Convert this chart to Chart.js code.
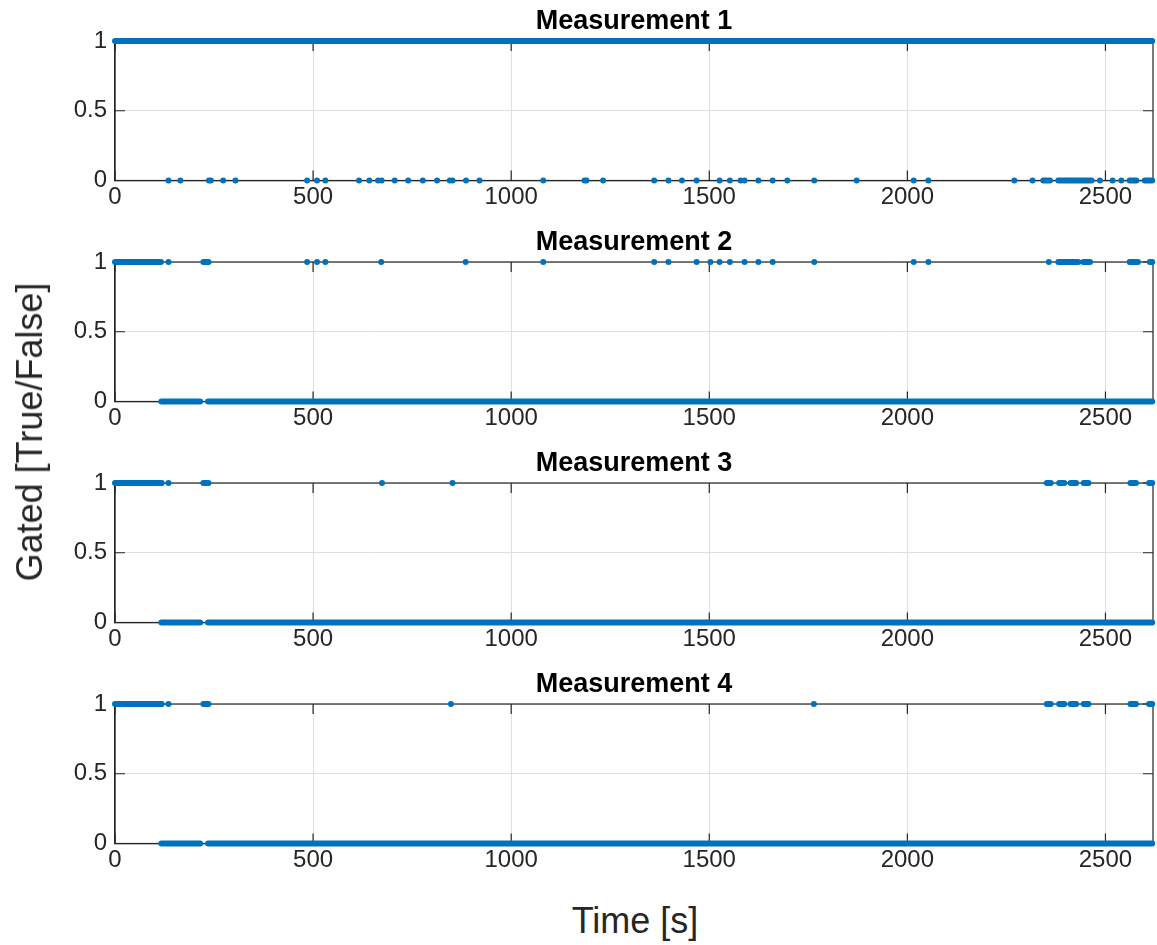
<!DOCTYPE html>
<html>
<head>
<meta charset="utf-8">
<script src="https://cdn.jsdelivr.net/npm/chart.js@4.4.1/dist/chart.umd.min.js"></script>
<style>
  html, body { margin: 0; padding: 0; background: #fff; }
  body { width: 1157px; height: 945px; position: relative; overflow: hidden; font-family: "Liberation Sans", Arial, sans-serif; }
  .panel { position: absolute; left: 0; width: 1157px; height: 220px; }
  #ylabel { position: absolute; left: 30px; top: 432px; transform: translate(-50%, -50%) rotate(-90deg); font-size: 36px; color: #262626; white-space: nowrap; }
  #xlabel { position: absolute; left: 635px; top: 921px; transform: translate(-50%, -50%); font-size: 36px; color: #262626; white-space: nowrap; }
</style>
</head>
<body>
<div class="panel" style="top:1px"><canvas id="m1"></canvas></div>
<div class="panel" style="top:222px"><canvas id="m2"></canvas></div>
<div class="panel" style="top:443px"><canvas id="m3"></canvas></div>
<div class="panel" style="top:664px"><canvas id="m4"></canvas></div>
<div id="ylabel">Gated [True/False]</div>
<div id="xlabel">Time [s]</div>

<script>
// axis ticks
const timeTicks = [0, 500, 1000, 1500, 2000, 2500];
const gateTicks = [0, 0.5, 1];
const timeMax = 2620;

const titles = ['Measurement 1', 'Measurement 2', 'Measurement 3', 'Measurement 4'];

// gated samples: long dense stretches as [start, end], lone samples as times
const m1HighRuns = [[0, 2618]];
const m1HighPts = [];
const m1LowRuns = [[2343, 2360], [2381, 2465], [2561, 2578], [2599, 2618]];
const m1LowPts = [135, 165, 237, 242, 273, 304, 485, 510, 531, 616, 642, 664, 673, 706, 740, 777, 813, 845, 852, 886, 920,
  1081, 1185, 1190, 1232, 1361, 1397, 1431, 1468, 1526, 1552, 1579, 1589, 1624, 1660, 1697, 1765, 1872, 2016, 2053,
  2270, 2316, 2486, 2518, 2540];

const m2HighRuns = [[0, 116], [223, 236], [2381, 2431], [2444, 2461], [2561, 2582], [2612, 2618]];
const m2HighPts = [135, 485, 510, 531, 672, 885, 1081, 1361, 1397, 1468, 1503, 1526, 1552, 1589, 1624, 1660, 1765,
  2016, 2053, 2357];
const m2LowRuns = [[117, 215], [235, 2618]];
const m2LowPts = [];

const m3HighRuns = [[0, 118], [223, 236], [2352, 2362], [2383, 2396], [2412, 2426], [2445, 2457], [2563, 2577], [2610, 2618]];
const m3HighPts = [135, 674, 852];
const m3LowRuns = [[117, 215], [235, 2618]];
const m3LowPts = [];

const m4HighRuns = [[0, 118], [223, 236], [2352, 2362], [2383, 2396], [2412, 2426], [2445, 2457], [2563, 2577], [2610, 2618]];
const m4HighPts = [135, 848, 1764];
const m4LowRuns = [[117, 215], [235, 2618]];
const m4LowPts = [];

const BLUE = '#0072BD';
const INK = '#262626';
const GRID = '#dfdfdf';
const FONT = '"Liberation Sans", Arial, sans-serif';

function runsToLine(runs, level) {
  const out = [];
  runs.forEach(([a, b]) => {
    out.push({ x: a, y: level }, { x: b, y: level }, { x: b, y: null });
  });
  return out;
}

function pointsAt(times, level) {
  return times.map(t => ({ x: t, y: level }));
}

// box around the plot area with inward ticks on all four sides, title centred over the axes
const boxPlugin = {
  id: 'boxPlugin',
  beforeDatasetsDraw(chart) {
    const { ctx, chartArea: a, scales } = chart;
    const len = 10;
    ctx.save();
    ctx.strokeStyle = INK;
    ctx.lineWidth = 1.2;
    ctx.strokeRect(a.left, a.top, a.right - a.left, a.bottom - a.top);
    ctx.beginPath();
    timeTicks.forEach(v => {
      const x = scales.x.getPixelForValue(v);
      ctx.moveTo(x, a.bottom); ctx.lineTo(x, a.bottom - len);
      ctx.moveTo(x, a.top); ctx.lineTo(x, a.top + len);
    });
    gateTicks.forEach(v => {
      const y = scales.y.getPixelForValue(v);
      ctx.moveTo(a.left, y); ctx.lineTo(a.left + len, y);
      ctx.moveTo(a.right, y); ctx.lineTo(a.right - len, y);
    });
    ctx.stroke();
    ctx.restore();
  },
  afterDraw(chart, args, opts) {
    const { ctx, chartArea: a } = chart;
    ctx.save();
    ctx.fillStyle = '#000';
    ctx.font = 'bold 27px ' + FONT;
    ctx.textAlign = 'center';
    ctx.textBaseline = 'middle';
    ctx.fillText(opts.text, (a.left + a.right) / 2, a.top - 19);
    ctx.restore();
  }
};

function makePanel(id, title, highRuns, highPts, lowRuns, lowPts) {
  const lineStyle = {
    type: 'line', borderColor: BLUE, borderWidth: 6, borderCapStyle: 'round',
    pointRadius: 0, spanGaps: false, clip: false, parsing: false
  };
  const dotStyle = {
    type: 'scatter', backgroundColor: BLUE, borderWidth: 0, pointRadius: 3, clip: false
  };
  new Chart(document.getElementById(id), {
    data: {
      datasets: [
        { ...lineStyle, data: runsToLine(highRuns, 1) },
        { ...lineStyle, data: runsToLine(lowRuns, 0) },
        { ...dotStyle, data: pointsAt(highPts, 1) },
        { ...dotStyle, data: pointsAt(lowPts, 0) }
      ]
    },
    options: {
      responsive: true,
      maintainAspectRatio: false,
      animation: false,
      layout: { padding: { left: 0, right: 1.3, top: 40, bottom: 0 } },
      plugins: {
        legend: { display: false },
        tooltip: { enabled: false },
        title: { display: false },
        boxPlugin: { text: title }
      },
      scales: {
        x: {
          type: 'linear', min: 0, max: timeMax,
          afterBuildTicks: s => { s.ticks = timeTicks.map(v => ({ value: v })); },
          afterFit: s => { s.height = 40.5; },
          ticks: { color: INK, font: { family: FONT, size: 24 }, padding: 2, maxRotation: 0, callback: v => String(v) },
          grid: { color: GRID, drawTicks: false },
          border: { display: true, color: INK, width: 1.2 }
        },
        y: {
          type: 'linear', min: 0, max: 1,
          afterBuildTicks: s => { s.ticks = gateTicks.map(v => ({ value: v })); },
          afterFit: s => { s.width = 115; },
          ticks: { color: INK, font: { family: FONT, size: 24 }, padding: 8, callback: v => String(v) },
          grid: { color: GRID, drawTicks: false },
          border: { display: true, color: INK, width: 1.2 }
        }
      }
    },
    plugins: [boxPlugin]
  });
}

makePanel('m1', titles[0], m1HighRuns, m1HighPts, m1LowRuns, m1LowPts);
makePanel('m2', titles[1], m2HighRuns, m2HighPts, m2LowRuns, m2LowPts);
makePanel('m3', titles[2], m3HighRuns, m3HighPts, m3LowRuns, m3LowPts);
makePanel('m4', titles[3], m4HighRuns, m4HighPts, m4LowRuns, m4LowPts);
</script>
</body>
</html>
